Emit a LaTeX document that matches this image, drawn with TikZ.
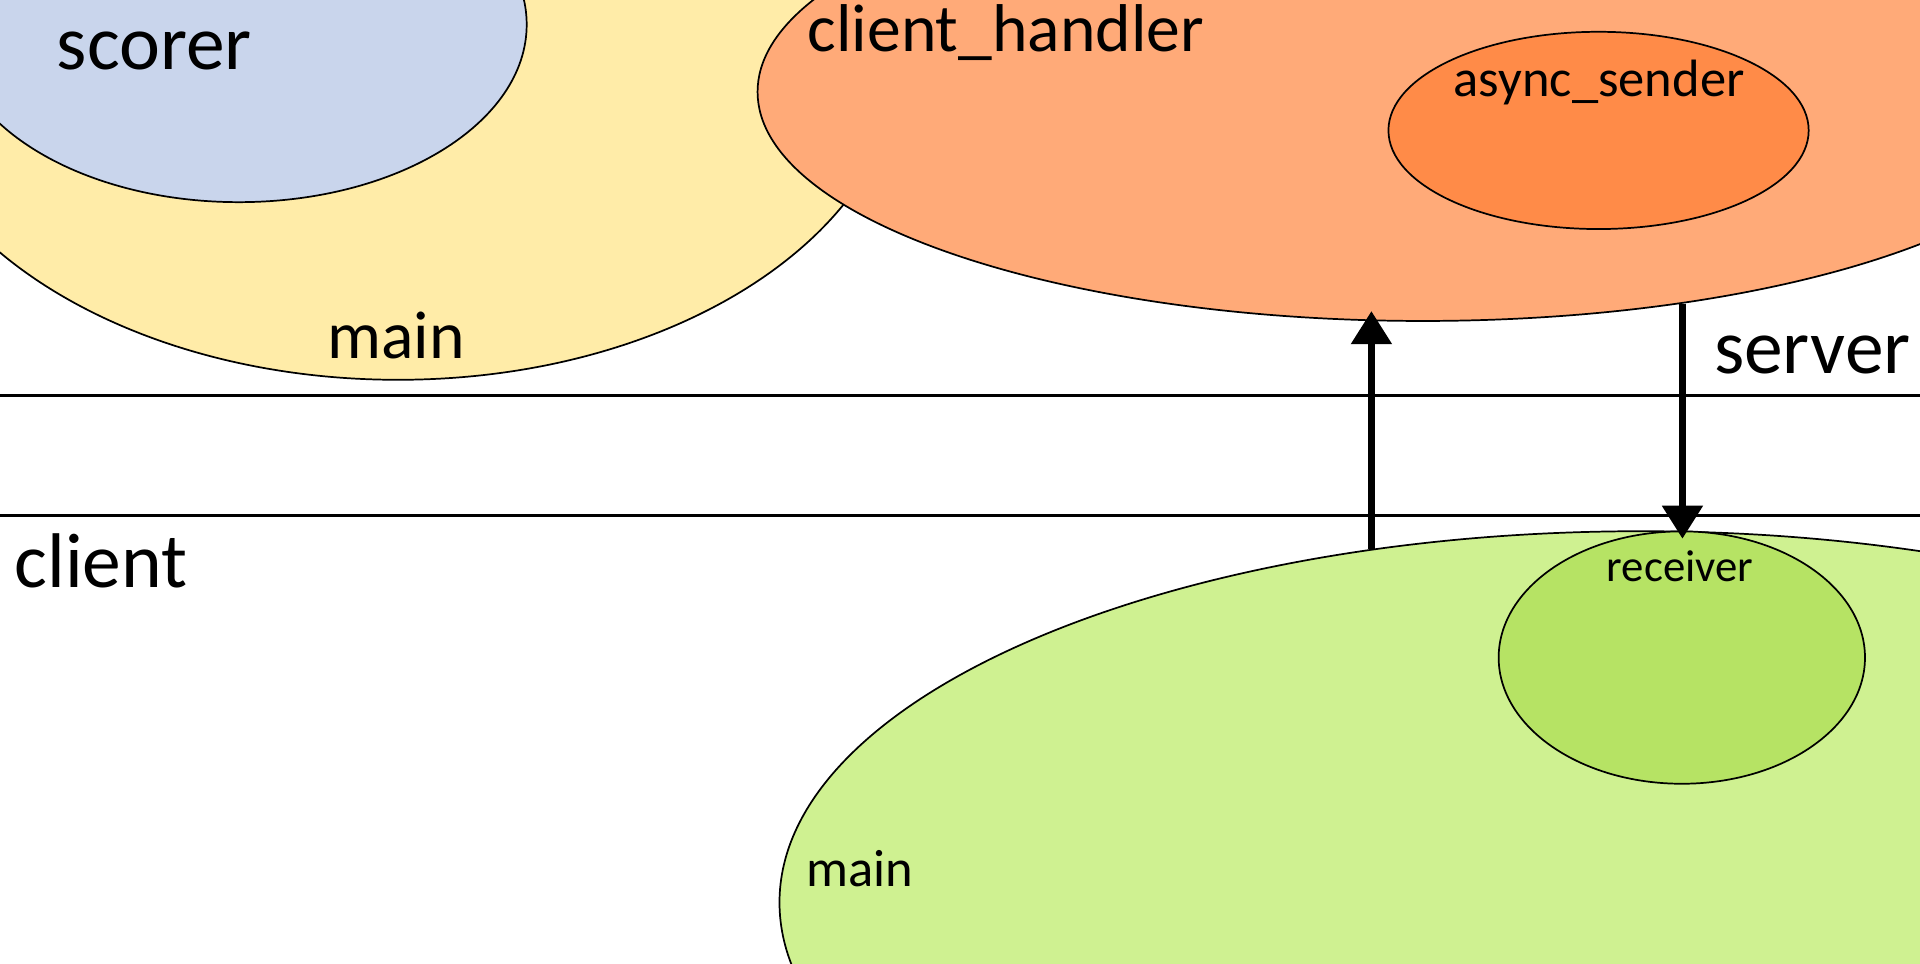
\documentclass[tikz,border=0pt]{standalone}
\usepackage{fontspec}
\setmainfont{Carlito}
\usetikzlibrary{shapes.geometric,arrows.meta}
\definecolor{cblue}{HTML}{C9D5EC}
\definecolor{cyellow}{HTML}{FFECA8}
\definecolor{corange}{HTML}{FFAA78}
\definecolor{cdorange}{HTML}{FF8B48}
\definecolor{clgreen}{HTML}{CFF191}
\definecolor{cgreen}{HTML}{B6E364}
\begin{document}
\begin{tikzpicture}[x=0.01cm,y=-0.01cm,
  blob/.style={ellipse, draw=black, line width=0.4pt, inner sep=0pt, outer sep=0pt},
  sepline/.style={draw=black, line width=0.75pt},
  flow/.style={draw=black, line width=1.75pt, -{Triangle[width=0.32cm,length=0.27cm]}},
  lbl/.style={inner sep=0pt, outer sep=0pt, text=black, anchor=base},
  big/.style={lbl, font=\fontsize{18}{21}\selectfont},
  mid/.style={lbl, font=\fontsize{15.7}{18}\selectfont},
  small/.style={lbl, font=\fontsize{12.2}{14}\selectfont}]
\useasboundingbox (0,0) rectangle (1568,787);
\clip (0,0) rectangle (1568,787);
% server side
\node[blob, fill=cyellow, minimum width=8.24cm, minimum height=5.4cm] (srvmain) at (325,40) {};
\node[blob, fill=cblue, minimum width=4.7cm, minimum height=2.9cm] (scorer) at (195,20) {};
\node[blob, fill=corange, minimum width=10.86cm, minimum height=3.74cm] (handler) at (1162,75) {};
\node[blob, fill=cdorange, minimum width=3.43cm, minimum height=1.61cm] (sender) at (1305.5,106.5) {};
% client side
\node[blob, fill=clgreen, minimum width=14.06cm, minimum height=6.06cm] (climain) at (1340,737) {};
\node[blob, fill=cgreen, minimum width=2.99cm, minimum height=2.06cm] (receiver) at (1373.5,537) {};
% separator lines
\coordinate (l1a) at (0,323); \coordinate (l1b) at (1568,323);
\coordinate (l2a) at (0,421); \coordinate (l2b) at (1568,421);
\draw[sepline] (l1a) -- (l1b);
\draw[sepline] (l2a) -- (l2b);
% arrows
\coordinate (upfrom) at (1120,448); \coordinate (upto) at (1120,254);
\coordinate (dnfrom) at (1374,248); \coordinate (dnto) at (1374,440);
\draw[flow] (upfrom) -- (upto);
\draw[flow] (dnfrom) -- (dnto);
% labels
\node[big] (tscorer) at (126,57) {scorer};
\node[mid] (tsrvmain) at (323.5,292.6) {main};
\node[mid] (thandler) at (821.5,42.2) {client\_handler};
\node[small] (tsender) at (1306,79) {async\_sender};
\node[big] (tserver) at (1480,305) {server};
\node[big] (tclient) at (82.5,480) {client};
\node[lbl, font=\fontsize{10.4}{12}\selectfont] (treceiver) at (1372,475) {receiver};
\node[small] (tclimain) at (702.5,724) {main};
\end{tikzpicture}
\end{document}
